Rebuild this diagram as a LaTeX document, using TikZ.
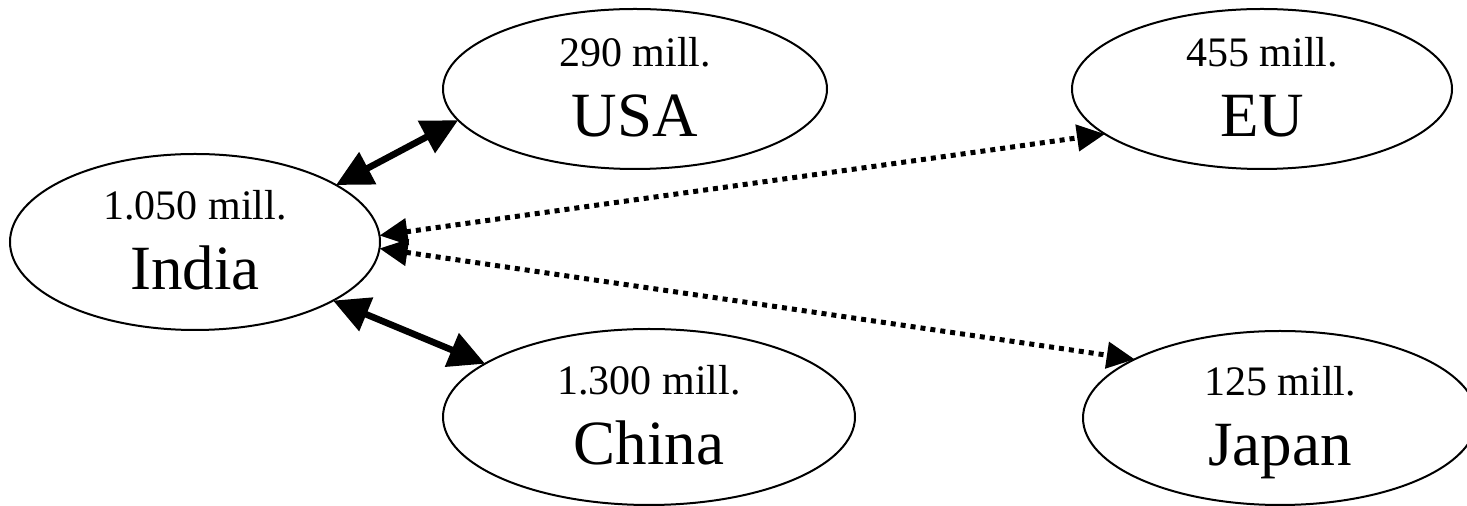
\documentclass[tikz,border=0pt]{standalone}
\usepackage{fontspec}
\setmainfont{Liberation Serif}
\usetikzlibrary{shapes.geometric,arrows.meta}
\begin{document}
\begin{tikzpicture}[x=0.5pt,y=-0.5pt,
  region/.style={ellipse, draw, line width=1pt, inner sep=0pt, outer sep=0pt},
  poplabel/.style={anchor=base, inner sep=0pt, font=\fontsize{21}{21}\selectfont},
  countrylabel/.style={anchor=base, inner sep=0pt, font=\fontsize{31.5}{31.5}\selectfont},
  bighead/.tip={Triangle[length=18pt,width=17.5pt]},
  smallhead/.tip={Triangle[length=14pt,width=13pt]},
  stronglink/.style={line width=3.3pt, bighead-bighead},
  weaklink/.style={line width=2.5pt, dash pattern=on 2.5pt off 2.5pt, smallhead-smallhead}]
\clip (0,0) rectangle (1467,506);

% regions
\node[region, minimum width=185pt, minimum height=88pt] (india) at (195,242) {};
\node[region, minimum width=192pt, minimum height=80pt] (usa)   at (635,89)  {};
\node[region, minimum width=190pt, minimum height=80pt] (eu)    at (1262,89) {};
\node[region, minimum width=206pt, minimum height=88pt] (china) at (649,417) {};
\node[region, minimum width=197pt, minimum height=87pt] (japan) at (1280,418) {};

% population and name inside each region
\foreach \r/\p/\n in {india/1.050 mill./India, usa/290 mill./USA, eu/455 mill./EU,
                      china/1.300 mill./China, japan/125 mill./Japan}{
  \node[poplabel]     (\r-pop)  at ([yshift=11pt]\r.center)  {\p};
  \node[countrylabel] (\r-name) at ([yshift=-24pt]\r.center) {\n};
}

% connections
\draw[stronglink] (india.22.4) -- (usa.190.6);
\draw[stronglink] (india.337.9) -- (china.162.6);
\draw[weaklink] (india.2.8) -- (eu.196.2);
\draw[weaklink] (india.358.5) -- (japan.158.9);
\end{tikzpicture}
\end{document}
